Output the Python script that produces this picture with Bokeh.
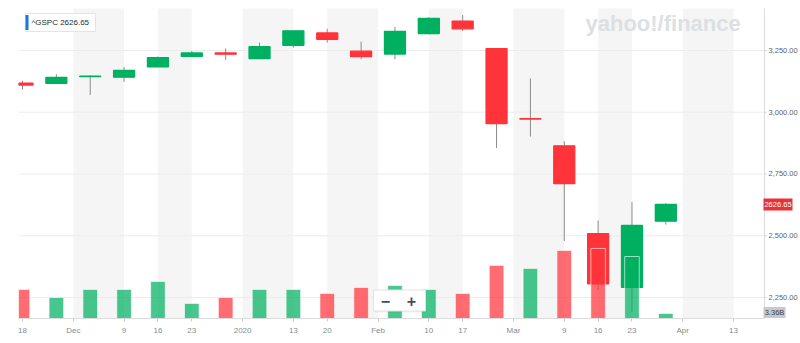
from bokeh.plotting import figure
from bokeh.models import Range1d, FixedTicker
from bokeh.embed import file_html
from bokeh.resources import INLINE
from bokeh.core.properties import value

# ---- data (weekly ^GSPC candles, Nov 18 2019 .. Mar 30 2020) ----
weeks = ["2019-11-18", "2019-11-25", "2019-12-02", "2019-12-09", "2019-12-16",
         "2019-12-23", "2019-12-30", "2020-01-06", "2020-01-13", "2020-01-20",
         "2020-01-27", "2020-02-03", "2020-02-10", "2020-02-17", "2020-02-24",
         "2020-03-02", "2020-03-09", "2020-03-16", "2020-03-23", "2020-03-30"]
opens = [3117.9, 3117.4, 3143.8, 3141.9, 3183.6, 3226.1, 3240.1, 3217.6, 3271.1, 3321.0,
         3247.2, 3235.7, 3318.3, 3369.0, 3257.6, 2974.3, 2863.9, 2508.6, 2290.7, 2559.0]
highs = [3127.6, 3154.3, 3150.6, 3182.7, 3225.6, 3247.9, 3258.1, 3282.0, 3329.9, 3337.8,
         3285.9, 3345.0, 3385.1, 3393.5, 3259.8, 3136.7, 2882.6, 2562.0, 2637.0, 2631.8]
lows = [3091.4, 3113.5, 3070.3, 3123.1, 3183.6, 3223.0, 3212.0, 3214.6, 3262.0, 3281.5,
        3214.6, 3214.6, 3315.2, 3328.5, 2855.8, 2901.5, 2478.9, 2280.5, 2191.9, 2545.3]
closes = [3110.3, 3141.0, 3145.9, 3169.0, 3221.2, 3240.0, 3234.9, 3265.4, 3329.6, 3295.5,
          3225.5, 3327.7, 3380.2, 3337.8, 2954.2, 2972.4, 2711.0, 2304.9, 2541.5, 2626.65]
volumes_b = [19.5, 14.1, 19.5, 19.5, 24.8, 10.1, 14.1, 19.5, 19.5, 16.8,
             20.8, 22.1, 19.5, 16.8, 35.6, 33.6, 45.6, 47.0, 41.6, 3.36]
prev_close = 3120.46

tick_pos = [0, 1.5, 3, 4, 5, 6.5, 8, 9, 10.5, 12, 13, 14.5, 16, 17, 18, 19.5, 21]
tick_labels = ["18", "Dec", "9", "16", "23", "2020", "13", "20", "Feb", "10", "17",
               "Mar", "9", "16", "23", "Apr", "13"]
price_ticks = [2250, 2500, 2750, 3000, 3250]
last_price_text = "2626.65"
last_volume_text = "3.36B"
symbol_text = "^GSPC 2626.65"

# ---- geometry ----
W, H = 800, 343
FL, FR, FT, FB = 18, 800, 8, 318      # plotting frame (canvas px)
AXR = 764                              # right edge of chart area (price scale line)
UNIT = 33.86                           # px per week
X0 = (FL - 22) / UNIT
X1 = (FR - 22) / UNIT
Y0, Y1 = 2165.0, 3420.0
VMAX = 208.0


def px_x(px):
    return X0 + (px - FL) * (X1 - X0) / (FR - FL)


def px_y(py):
    return Y1 - (py - FT) * (Y1 - Y0) / (FB - FT)


GREEN = "#00b061"
RED = "#ff333a"
FONT = "Liberation Sans"

p = figure(width=W, height=H, x_range=Range1d(X0, X1), y_range=Range1d(Y0, Y1),
           output_backend="svg", toolbar_location=None,
           min_border_left=FL, min_border_right=W - FR, min_border_top=FT,
           min_border_bottom=H - FB)
p.yaxis.visible = False
p.extra_y_ranges = {"vol": Range1d(0, VMAX)}
p.outline_line_color = None
p.background_fill_color = "white"
p.border_fill_color = "white"
p.xgrid.visible = False
p.ygrid.visible = False

# alternating bands between ticks
for k in range(1, len(tick_pos) - 1, 2):
    p.quad(left=tick_pos[k], right=tick_pos[k + 1], bottom=Y0 - 200, top=Y1 + 200,
           fill_color="#f5f5f5", line_color=None, level="image")

# horizontal grid lines (stop at the price scale)
xr = px_x(AXR)
p.segment(x0=[X0] * len(price_ticks), y0=price_ticks, x1=[xr] * len(price_ticks),
          y1=price_ticks, line_color="#ececec", line_width=1, level="image")

# price scale line, ticks and labels (right side)
p.segment(x0=[xr], y0=[Y0 - 100], x1=[xr], y1=[Y1 + 100], line_color="#dcdcdc",
          line_width=1)
p.segment(x0=[xr] * len(price_ticks), y0=price_ticks, x1=[px_x(AXR + 2)] * len(price_ticks),
          y1=price_ticks, line_color="#cccccc", line_width=1)
p.text(x=[px_x(AXR + 4)] * len(price_ticks), y=price_ticks,
       text=[f"{v:,.2f}" for v in price_ticks], text_font=value(FONT),
       text_font_size="7.5px", text_color="#5b636a", text_baseline="middle",
       text_align="left")

# x axis
p.xaxis.ticker = FixedTicker(ticks=tick_pos)
p.xaxis.major_label_overrides = {t: lab for t, lab in zip(tick_pos, tick_labels)}
p.xaxis.bounds = (X0, xr)
p.xaxis.axis_line_color = "#dcdcdc"
p.xaxis.major_tick_line_color = "#cccccc"
p.xaxis.major_tick_out = 3
p.xaxis.major_tick_in = 0
p.xaxis.minor_tick_line_color = None
p.xaxis.major_label_text_font = FONT
p.xaxis.major_label_text_font_size = "8px"
p.xaxis.major_label_text_color = "#868c92"
p.xaxis.major_label_standoff = 4

# candles
idx = list(range(len(weeks)))
tops = [max(o, c) for o, c in zip(opens, closes)]
bots = [min(o, c) for o, c in zip(opens, closes)]
ccol = [GREEN if c >= o else RED for o, c in zip(opens, closes)]
p.segment(x0=idx, y0=lows, x1=idx, y1=highs, line_color="#8a8a8a", line_width=1)
p.vbar(x=idx, width=0.62, top=tops, bottom=bots, fill_color=ccol, line_color=ccol,
       line_width=1.3)

# volume
prevs = [prev_close] + closes[:-1]
vcol = [GREEN if c >= pc else RED for c, pc in zip(closes, prevs)]
p.vbar(x=idx, width=0.43, top=volumes_b, bottom=0, y_range_name="vol",
       fill_color=vcol, fill_alpha=0.72, line_color="white", line_alpha=0.6,
       line_width=1)

# watermark
p.text(x=[px_x(585)], y=[px_y(23)], text=["yahoo!/finance"], text_font=value(FONT),
       text_font_style="bold", text_font_size="22px", text_color="#dcdfe3",
       text_baseline="middle", text_align="left")

# symbol legend box
p.rect(x=[px_x(60)], y=[px_y(22)], width=70, height=18, width_units="screen",
       height_units="screen", fill_color="white", line_color="#e4e4e4", line_width=1)
p.rect(x=[px_x(26.5)], y=[px_y(22)], width=3, height=15, width_units="screen",
       height_units="screen", fill_color="#1a73e8", line_color=None)
p.text(x=[px_x(31)], y=[px_y(22)], text=[symbol_text], text_font=value(FONT),
       text_font_size="8px", text_color="#232a31", text_baseline="middle",
       text_align="left")

# zoom buttons
p.rect(x=[px_x(400)], y=[px_y(301)], width=52, height=22, width_units="screen",
       height_units="screen", fill_color="#000000", fill_alpha=0.06, line_color=None)
p.rect(x=[px_x(399)], y=[px_y(300)], width=52, height=21, width_units="screen",
       height_units="screen", fill_color="white", line_color="#e2e2e2")
p.text(x=[px_x(385), px_x(411)], y=[px_y(300), px_y(300)], text=["\u2212", "+"],
       text_font=value(FONT), text_font_style="bold", text_font_size="16px",
       text_color="#464e56", text_baseline="middle", text_align="center")

# right-hand value tags
p.rect(x=[px_x(777.5)], y=[closes[-1]], width=29, height=12, width_units="screen",
       height_units="screen", fill_color="#e8313a", line_color=None)
p.text(x=[px_x(777.5)], y=[closes[-1]], text=[last_price_text], text_font=value(FONT),
       text_font_size="7.5px", text_color="white", text_baseline="middle",
       text_align="center")
vy = px_y(312)
p.rect(x=[px_x(774)], y=[vy], width=22, height=11, width_units="screen",
       height_units="screen", fill_color="#c6cacf", line_color=None)
p.text(x=[px_x(774)], y=[vy], text=[last_volume_text], text_font=value(FONT),
       text_font_size="7.5px", text_color="#3b4148", text_baseline="middle",
       text_align="center")

open("out.html", "w").write(file_html(p, INLINE))
